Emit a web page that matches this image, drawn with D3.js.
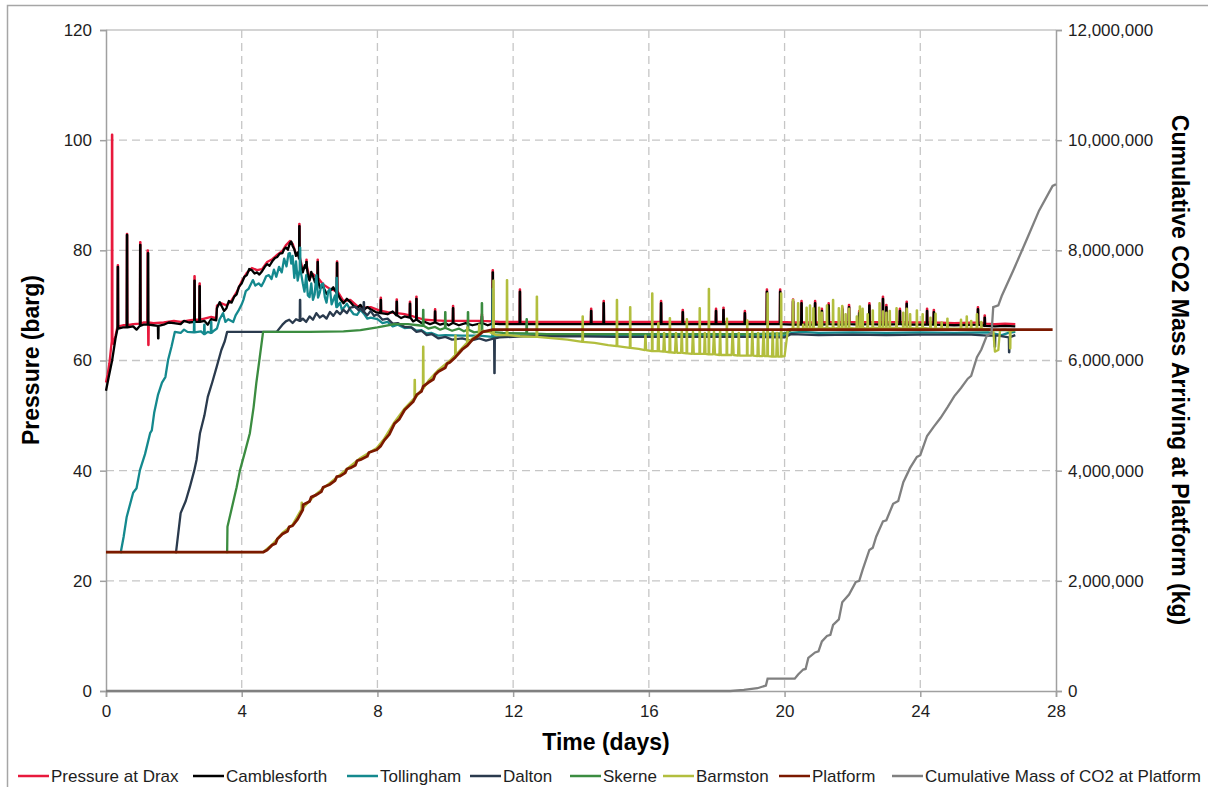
<!DOCTYPE html>
<html>
<head>
<meta charset="utf-8">
<script src="https://cdn.jsdelivr.net/npm/d3@7"></script>
<style>
  body { margin: 0; background: #fff; }
  svg text { font-family: "Liberation Sans", Arial, sans-serif; }
</style>
</head>
<body>
<div id="chart"></div>
<script>
// x values are days, y values are barg. a spike is written [day, base, peak] or [day, base, peak, width]
var drax = [[0,56],[0.05,57.5],[0.1,59.5],[0.17,63.5],[0.18,63.5,101],[0.22,63],[0.28,64.5],[0.35,66.2,77.3],[0.5,66.4],[0.62,66.4,83],[0.8,66.6],[1.01,66.7,81.5],[1.1,66.9],[1.23,66.9,80],[1.25,66.9,62.8],[1.4,66.8],[1.7,66.9],[2.0,67.2],[2.2,67],[2.45,67.3],[2.61,67.4,75.3],[2.76,67.4,74],[2.9,67.6],[3.1,67.9],[3.25,67.7],[3.27,70],[3.4,70.4],[3.55,70],[3.7,70.9],[3.85,72.4],[4.0,74.4],[4.15,75.9],[4.3,76.8],[4.45,76.4],[4.6,76.6],[4.75,77.9],[4.9,78.4],[5.05,79.2],[5.2,79.9],[5.3,80.9],[5.42,81.7],[5.5,81.2],[5.6,79.4],[5.7,78.9,84.8],[5.8,76.4],[5.91,77.2,78.3],[6.0,74.9],[6.1,75.7],[6.24,75,78.3],[6.4,73.8],[6.6,73],[6.81,72.6,78],[7.0,70.8],[7.2,71],[7.4,69.9],[7.6,69.6],[7.8,69.7],[8.1,69,71.4],[8.3,68.8],[8.57,68.6,71.1],[8.8,68.4],[8.96,68.2,70.7],[9.15,67.8,71.6],[9.4,67.4],[9.7,67.3,69.3],[10.0,67.2],[10.23,67.2,69.9],[10.6,67.2],[11.08,67.2,68.4],[11.4,67.1,76.4],[11.6,67],[12.2,67,72.9],[13.0,67],[14.3,67,69.4],[14.67,67,70.8],[15.5,67],[16.36,67,70.8],[17.0,67,69.2],[17.98,67,69.4],[18.2,67,69.6],[18.83,67,69],[19.48,67,72.9],[19.87,67,72.9],[20.25,66.9,71.1],[20.5,66.9,70.8],[20.9,66.9,70.8],[21.1,66.9,69.4],[21.3,67,70.4],[21.7,66.9,69.7],[21.9,67,70.1],[22.2,66.9,69],[22.5,67,70.4],[22.9,66.9,71.6],[23.0,66.9,70.1],[23.4,67,69.4],[23.6,66.9,70.7],[24.2,66.9,69.4],[24.4,66.9,69.2],[25.0,66.8],[25.7,66.9,69.7],[25.9,66.7,68.2],[26.2,66.6],[26.5,66.7],[26.8,66.6]];

var camblesforth = [[0,54.5],[0.08,57],[0.18,60],[0.28,64],[0.35,65.8,77],[0.5,66],[0.62,66,82.8],[0.8,66.2],[0.9,65.6],[1.01,66.3,81],[1.1,66.5],[1.24,66.5,79.5],[1.4,66.4],[1.54,66.3,64],[1.7,66.5],[1.85,66.9],[2.0,66.8],[2.2,66.6],[2.3,67.2],[2.45,66.9],[2.61,67,74.5],[2.76,67,73.5],[2.9,67.2],[3.0,66.5],[3.1,67.5],[3.25,67.3],[3.27,69.5],[3.35,70.6],[3.4,70],[3.48,69],[3.55,69.5],[3.62,70.8],[3.7,70.5],[3.78,71.6],[3.85,72],[3.92,73.4],[4.0,74],[4.08,75.2],[4.15,75.5],[4.22,76.6],[4.3,76.4],[4.38,75.8],[4.45,76],[4.52,75.6],[4.6,76.2],[4.68,77],[4.75,77.5],[4.82,77.2],[4.9,78],[4.98,78.6],[5.05,78.8],[5.12,79.4],[5.2,79.5],[5.25,80.2],[5.3,80.5],[5.36,80.1],[5.42,81.3],[5.46,81.6],[5.5,80.8],[5.55,80.2],[5.6,79],[5.65,79.6],[5.7,78.5,84.4],[5.75,77.2],[5.8,76],[5.86,77.3],[5.91,76.8,77.9],[5.96,75.2],[6.0,74.5],[6.05,76.1],[6.1,75.3],[6.16,74.2],[6.24,74.6,77.9],[6.3,73.2],[6.4,73.4],[6.5,72.1],[6.6,72.6],[6.7,73.3],[6.81,72.2,77.7],[6.9,71.2],[7.0,70.4],[7.1,71.2],[7.2,70.6],[7.3,69.9],[7.4,69.5],[7.5,70.1],[7.6,69.2],[7.7,69.7],[7.8,69.3],[7.95,68.8],[8.1,68.6,71],[8.3,68.4],[8.45,68.9],[8.57,68.2,70.7],[8.7,67.7],[8.8,68],[8.96,67.8,70.3],[9.05,67.1],[9.15,67.4,71.2],[9.3,66.8],[9.4,67],[9.55,66.6],[9.7,66.9,68.9],[9.85,66.5],[10.0,66.8],[10.1,66.4],[10.23,66.8,69.5],[10.4,66.4],[10.6,66.8],[10.8,66.4],[11.08,66.8,68],[11.25,66.4],[11.4,66.7,76],[11.6,66.6],[12.2,66.6,72.5],[13.0,66.6],[14.3,66.6,69],[14.67,66.6,70.4],[15.5,66.6],[16.36,66.6,70.4],[17.0,66.6,68.8],[17.98,66.6,69],[18.2,66.6,69.2],[18.83,66.6,68.6],[19.48,66.6,72.5],[19.87,66.6,72.5],[20.25,66.5,70.7],[20.5,66.5,70.4],[20.9,66.5,70.4],[21.1,66.5,69],[21.3,66.6,70],[21.7,66.5,69.3],[21.9,66.6,69.7],[22.2,66.5,68.6],[22.5,66.6,70],[22.9,66.5,71.2],[23.0,66.5,69.7],[23.4,66.6,69],[23.6,66.5,70.3],[24.2,66.5,69],[24.4,66.5,68.8],[25.0,66.4],[25.7,66.5,69.3],[25.9,66.3,67.8],[26.2,66.2],[26.5,66.3],[26.8,66.2]];

var tollingham = [[0.43,25],[0.52,28],[0.61,31.6],[0.8,36],[0.9,36.8],[1.0,40.1],[1.15,43],[1.3,46.8],[1.35,47.3],[1.42,50.5],[1.53,53.7],[1.65,56],[1.75,57],[1.83,60.1],[1.93,62.5],[2.03,65.2],[2.2,65],[2.3,65.6],[2.4,65.2],[2.6,65.1,67],[2.8,65.3],[2.9,64.8,66.5],[3.0,65.2],[3.1,65,67],[3.2,65.5],[3.27,65.8],[3.35,67.5],[3.45,68.6],[3.52,67],[3.6,67.5],[3.75,67],[3.82,68.2],[3.9,69],[4.0,70.2],[4.05,71],[4.12,72.6],[4.2,73],[4.33,74.6],[4.4,73.6],[4.5,74],[4.58,73.5],[4.65,74.3],[4.72,75.3],[4.8,75.5],[4.88,74.8],[4.95,76.5],[5.02,75.2],[5.1,77],[5.18,76],[5.25,78.5],[5.32,77.1],[5.38,79.4],[5.42,79.5],[5.46,77.6],[5.5,79],[5.55,75],[5.6,78],[5.65,74.5],[5.72,76.5,80.5],[5.8,74],[5.85,72.5],[5.9,75.5],[5.95,71.8],[6.0,71.5],[6.05,74],[6.1,71],[6.15,72],[6.2,75.5],[6.25,71.4],[6.3,72.3],[6.35,73.8],[6.4,74],[6.45,71.5],[6.5,70.5],[6.55,72.6],[6.6,73],[6.65,70.2],[6.7,71],[6.75,71.8],[6.8,69.7,75],[6.9,70.5],[6.95,69.2],[7.0,69.5],[7.1,70.3],[7.2,69.2],[7.3,68.4],[7.4,68.3],[7.5,69.2],[7.6,68.5],[7.7,67.6],[7.8,67.8],[8.0,67.5],[8.15,66.8],[8.3,67],[8.45,66.2],[8.6,66.5],[8.8,65.9],[9.0,66],[9.15,65.4],[9.3,65.5],[9.45,64.9],[9.6,65],[9.8,64.5],[10.0,64.6],[10.5,64.5],[11.0,64.5],[11.4,64.3,73],[11.6,64.5],[13,64.6],[15,64.6],[17,64.5],[19,64.6],[20,64.5],[20.2,65],[20.5,65.2],[21,65],[22,65.1],[23,65],[24,65.1],[25,65],[26,65.1],[26.4,64.6],[26.6,65],[26.8,65.2]];

var dalton = [[2.06,25],[2.2,32.3],[2.35,34.5],[2.47,37],[2.6,40],[2.67,42],[2.77,46.8],[2.9,50],[3.0,53.4],[3.13,56],[3.26,58.8],[3.4,61.9],[3.5,63.5],[3.57,65.2],[4.0,65.2],[4.5,65.2],[5.03,65.2],[5.2,66.5],[5.3,67.1],[5.4,67.4],[5.5,66.8],[5.6,67.5],[5.72,67.2,71],[5.8,67.6],[5.9,67],[6.0,68],[6.1,67.4],[6.2,68.6],[6.3,67.8],[6.4,68.2],[6.5,67.6],[6.6,68.8],[6.7,68.1],[6.8,69],[6.9,68.4],[7.0,69.2],[7.1,68.6],[7.2,69.6],[7.35,69.8],[7.45,69.1],[7.5,69.5],[7.6,68.8,70.6],[7.7,68.2],[7.8,69],[7.9,68.1],[8.0,68.4],[8.15,67.4],[8.3,67.6],[8.45,66.7],[8.6,66.8],[8.8,66.1],[9.0,66],[9.15,65.2],[9.3,65.4],[9.45,64.6],[9.6,64.8],[9.8,64],[10.0,64.3],[10.2,63.8],[10.5,64],[10.75,63.6],[11.0,64],[11.2,63.6],[11.45,64,57.7],[11.6,64.2],[12.3,64.4],[13,64.4],[14,64.4],[15,64.3],[16,64.3],[17,64.3],[18,64.3],[19,64.3],[20,64.2],[20.2,64.8],[21,64.6],[22,64.7],[23,64.6],[24,64.7],[25,64.7],[25.5,64.7],[26.0,64.5],[26.2,64.5,62.5],[26.3,64.5],[26.62,64.2,61.5],[26.8,64.6]];

var skerne = [[3.57,25],[3.58,29.8],[3.7,33],[3.85,37],[3.95,40.1],[4.1,43.5],[4.24,46.8],[4.35,51.5],[4.43,55.9],[4.53,60.5],[4.63,65.2],[5.0,65.2],[6.0,65.2],[7.0,65.3],[7.5,65.5],[8.0,66],[8.5,66.6],[8.9,66.6],[9.2,66.4],[9.35,66.3,69.2],[9.5,65.8],[9.7,66.1],[9.85,65.6],[10.0,65.9,68.8],[10.2,65.4],[10.4,65.8],[10.55,65.3],[10.67,65.6,68.8],[10.85,65.1],[11.08,65.3,70.4],[11.3,65.2],[11.7,65],[12.4,64.9,67.5],[13,64.8],[15,64.8],[17,64.8],[19,64.8],[20,64.9],[20.2,65.5],[22,65.6],[24,65.6],[26,65.5],[26.8,65.5]];

var barmston = [[0,25.2],[4.63,25.2],[4.9,26.6],[5.2,28.7],[5.5,30.2],[5.77,33,34.2],[5.8,33.2],[6.2,35.8],[6.6,37.8],[6.9,39.3],[7.2,40.8],[7.5,42.3],[7.98,44.1],[8.2,45.8],[8.5,48.8],[8.8,51.3],[9.1,53.2,56.5],[9.35,55,62.5],[9.5,56.3],[9.8,58.3],[10.14,60],[10.3,61,64.5],[10.5,62.3],[10.65,63.2,66],[10.8,64],[11.0,64.8,66.5],[11.1,65.4],[11.3,65.2],[11.42,64.8,74.5],[11.5,64.6],[11.82,64.6,74.6],[12.2,64.4],[12.7,64.3,71.6],[13.2,64],[13.6,63.8],[14.05,63.4,68],[14.4,63.2],[14.8,62.8],[15.06,62.6,71],[15.45,62.3,69.7],[15.7,62.1],[15.9,61.9,64.5,0.02],[16.1,61.7,72.2],[16.28,61.7,66.8,0.02],[16.45,61.6,65,0.025],[16.62,61.5,67.7,0.015],[16.8,61.4,65,0.03],[16.97,61.4,65.3,0.02],[17.12,61.3,67.5],[17.3,61.2,65.2,0.025],[17.5,61.2,69.5],[17.65,61.2,65,0.02],[17.77,61.1,73],[17.92,61.1,65.2,0.03],[18.1,61,65.3,0.02],[18.3,61,67.6],[18.47,61,65.2,0.03],[18.65,60.9,65,0.02],[18.9,60.9,67.3],[19.05,60.9,65.3,0.025],[19.22,60.8,65,0.02],[19.38,60.8,65.2,0.03],[19.5,60.8,72.2],[19.65,60.7,65.2,0.02],[19.78,60.7,65,0.025],[19.9,60.7,72.2],[20.0,60.8],[20.1,65.6],[20.25,65.8,71],[20.4,65.8,70.4],[20.55,65.7,66.5],[20.65,65.8,69.6],[20.75,65.8,70],[20.85,65.8,69.5],[21.02,65.8,69.6],[21.1,65.8,68.7],[21.25,65.9,70],[21.43,65.8,71],[21.6,65.9,69.5],[21.7,65.8,69.9],[21.8,65.8,68.4],[21.9,65.9,69.4],[22.13,65.8,68],[22.22,65.8,69.8],[22.3,65.9,69.4],[22.45,65.8,68.4],[22.6,65.9,69.1],[22.8,65.9,70.4],[22.9,65.9,68.9],[23.0,65.8,68.7],[23.1,65.9,69],[23.3,65.9,69.5],[23.5,65.8,68.7],[23.6,65.8,69.4],[23.7,65.9,68.4],[23.9,65.8,69.1],[24.07,65.9,68.4],[24.3,65.8,67.8],[24.45,65.8,68.5],[24.63,65.8,66.9],[24.8,65.8,67.6],[25.0,65.8],[25.2,65.8,67.4],[25.37,65.8,68],[25.5,65.8,67.2],[25.67,65.8,68.4],[25.8,65.8,67],[26.0,65.7],[26.15,65.5],[26.2,61.6],[26.3,61.9],[26.35,65.5],[26.5,65.6],[26.65,65.4,62.2],[26.8,65.5]];

var platform = [[0,25.2],[4.63,25.2],[4.75,25.6],[4.9,26.5],[5.0,26.8],[5.05,27.6],[5.2,28.5],[5.35,29],[5.4,29.8],[5.5,30],[5.65,31.2],[5.8,32.9],[5.81,33.8],[6.0,34.4],[6.05,35.2],[6.2,35.6],[6.35,36.2],[6.4,37],[6.6,37.5],[6.75,38.2],[6.8,38.9],[6.9,39],[7.05,39.6],[7.1,40.3],[7.2,40.5],[7.35,41],[7.4,41.8],[7.5,42],[7.7,42.6],[7.75,43.3],[7.98,43.8],[8.1,44.5],[8.2,45.5],[8.35,46.6],[8.5,48.5],[8.65,49.4],[8.8,51],[9.05,52.5],[9.16,53.8],[9.3,54.4],[9.35,55.3],[9.5,56],[9.65,56.6],[9.7,57.4],[9.8,58],[10.0,58.7],[10.05,59.4],[10.14,59.7],[10.3,60.6],[10.5,62],[10.65,62.7],[10.8,63.8],[10.95,64.4],[11.1,65.2],[11.4,65.6],[27.9,65.6]];

// cumulative mass at platform, kg (right axis)
var cumulative = [[0,0],[18.4,0],[18.8,20000],[19.2,50000],[19.45,100000],[19.5,225000],[20.3,225000],[20.4,300000],[20.55,390000],[20.62,400000],[20.7,600000],[20.9,700000],[21.0,720000],[21.1,900000],[21.25,1000000],[21.35,1020000],[21.43,1200000],[21.6,1300000],[21.7,1610000],[21.9,1750000],[22.1,1980000],[22.2,2000000],[22.3,2200000],[22.5,2560000],[22.6,2600000],[22.7,2800000],[22.9,3080000],[23.0,3100000],[23.2,3400000],[23.35,3450000],[23.5,3790000],[23.7,4050000],[23.9,4250000],[24.0,4280000],[24.2,4630000],[24.4,4800000],[24.6,4960000],[24.8,5150000],[25.0,5350000],[25.2,5500000],[25.4,5670000],[25.5,5720000],[25.67,6060000],[25.8,6200000],[25.96,6450000],[26.1,6500000],[26.15,6970000],[26.3,7000000],[26.4,7170000],[26.73,7620000],[27.14,8200000],[27.5,8720000],[27.9,9170000],[28,9200000]];

var seriesNames = ["Pressure at Drax", "Camblesforth", "Tollingham", "Dalton", "Skerne", "Barmston", "Platform", "Cumulative Mass of CO2 at Platform"];
var xTicks = [0, 4, 8, 12, 16, 20, 24, 28];
var yTicks = [0, 20, 40, 60, 80, 100, 120];
var y2Ticks = [0, 2000000, 4000000, 6000000, 8000000, 10000000, 12000000];

var colors = ["#e8193c", "#000000", "#14898e", "#2a3a4d", "#3b8c40", "#b2be3e", "#7b1900", "#808080"];

// svg size
var svgWidth = 1208;
var svgHeight = 787;

var margin = { top: 30, bottom: 96, left: 106, right: 152 };
var width = svgWidth - margin.left - margin.right;
var height = svgHeight - margin.top - margin.bottom;

var svg = d3.select("#chart")
  .append("svg")
  .attr("width", svgWidth)
  .attr("height", svgHeight);

// outer chart border
svg.append("rect")
  .attr("x", 7.5)
  .attr("y", 5.5)
  .attr("width", 1240)
  .attr("height", 820)
  .attr("fill", "none")
  .attr("stroke", "#a6a6a6")
  .attr("stroke-width", 1.5);

var chartGroup = svg.append("g")
  .attr("transform", `translate(${margin.left}, ${margin.top})`);

var xScale = d3.scaleLinear().domain([0, 28]).range([0, width]);
var yScale = d3.scaleLinear().domain([0, 120]).range([height, 0]);
var y2Scale = d3.scaleLinear().domain([0, 12000000]).range([height, 0]);

// gridlines
chartGroup.selectAll(".hgrid")
  .data(yTicks.filter(d => d > 0))
  .enter()
  .append("line")
  .attr("x1", 0)
  .attr("x2", width)
  .attr("y1", d => yScale(d))
  .attr("y2", d => yScale(d))
  .attr("stroke", "#c6c6c6")
  .attr("stroke-width", 1.3)
  .attr("stroke-dasharray", d => d === 120 ? null : "8,5");

chartGroup.selectAll(".vgrid")
  .data(xTicks.filter(d => d > 0 && d < 28))
  .enter()
  .append("line")
  .attr("x1", d => xScale(d))
  .attr("x2", d => xScale(d))
  .attr("y1", 0)
  .attr("y2", height)
  .attr("stroke", "#c6c6c6")
  .attr("stroke-width", 1.3)
  .attr("stroke-dasharray", "8,5");

// axes
var bottomAxis = d3.axisBottom(xScale).tickValues(xTicks).tickSize(6).tickPadding(8);
var leftAxis = d3.axisLeft(yScale).tickValues(yTicks).tickSize(6).tickPadding(8);
var rightAxis = d3.axisRight(y2Scale).tickValues(y2Ticks).tickSize(6).tickPadding(6)
  .tickFormat(d3.format(","));

var xAxis = chartGroup.append("g")
  .attr("transform", `translate(0, ${height})`)
  .call(bottomAxis);
var yAxis = chartGroup.append("g").call(leftAxis);
var y2Axis = chartGroup.append("g")
  .attr("transform", `translate(${width}, 0)`)
  .call(rightAxis);

[xAxis, yAxis, y2Axis].forEach(function(ax) {
  ax.select(".domain").attr("stroke", "#a0a0a0").attr("stroke-width", 1.5);
  ax.selectAll(".tick line").attr("stroke", "#a0a0a0").attr("stroke-width", 1.5);
  ax.selectAll(".tick text")
    .attr("font-size", "17px")
    .attr("fill", "#1e1e1e")
    .style("font-family", "'Liberation Sans', Arial, sans-serif");
});

// expand spikes into base-peak-base points
function expand(pts) {
  var out = [];
  pts.forEach(function(p) {
    if (p.length >= 3) {
      var w = p[3] || 0.01;
      out.push([p[0] - w, p[1]], [p[0] - 0.004, p[2]], [p[0] + 0.004, p[2]], [p[0] + w, p[1]]);
    } else {
      out.push(p);
    }
  });
  return out;
}

var pressureLine = d3.line()
  .x(d => xScale(d[0]))
  .y(d => yScale(d[1]));

var massLine = d3.line()
  .x(d => xScale(d[0]))
  .y(d => y2Scale(d[1]));

var pressureSeries = [drax, camblesforth, tollingham, dalton, skerne, barmston, platform];

pressureSeries.forEach(function(s, i) {
  chartGroup.append("path")
    .datum(expand(s))
    .attr("d", pressureLine)
    .attr("fill", "none")
    .attr("stroke", colors[i])
    .attr("stroke-width", i === 6 ? 2.8 : 2.3)
    .attr("stroke-linejoin", "round");
});

chartGroup.append("path")
  .datum(cumulative)
  .attr("d", massLine)
  .attr("fill", "none")
  .attr("stroke", colors[7])
  .attr("stroke-width", 2.3);

// axis titles
svg.append("text")
  .attr("transform", "translate(39, 360) rotate(-90)")
  .attr("text-anchor", "middle")
  .attr("font-size", "23px")
  .attr("font-weight", "bold")
  .text("Pressure (barg)");

svg.append("text")
  .attr("transform", "translate(1172, 370) rotate(90)")
  .attr("text-anchor", "middle")
  .attr("font-size", "23px")
  .attr("font-weight", "bold")
  .text("Cumulative CO2 Mass Arriving at Platform (kg)");

svg.append("text")
  .attr("x", 606)
  .attr("y", 750)
  .attr("text-anchor", "middle")
  .attr("font-size", "23px")
  .attr("font-weight", "bold")
  .text("Time (days)");

// legend
var legendX = [18, 193, 347, 470, 570, 663, 779, 892];
var legend = svg.append("g").attr("transform", "translate(0, 776)");

seriesNames.forEach(function(name, i) {
  legend.append("line")
    .attr("x1", legendX[i])
    .attr("x2", legendX[i] + 31)
    .attr("y1", 0)
    .attr("y2", 0)
    .attr("stroke", colors[i])
    .attr("stroke-width", 2.5);
  legend.append("text")
    .attr("x", legendX[i] + 33)
    .attr("y", 6)
    .attr("font-size", "17px")
    .attr("fill", "#1e1e1e")
    .text(name);
});
</script>
</body>
</html>
